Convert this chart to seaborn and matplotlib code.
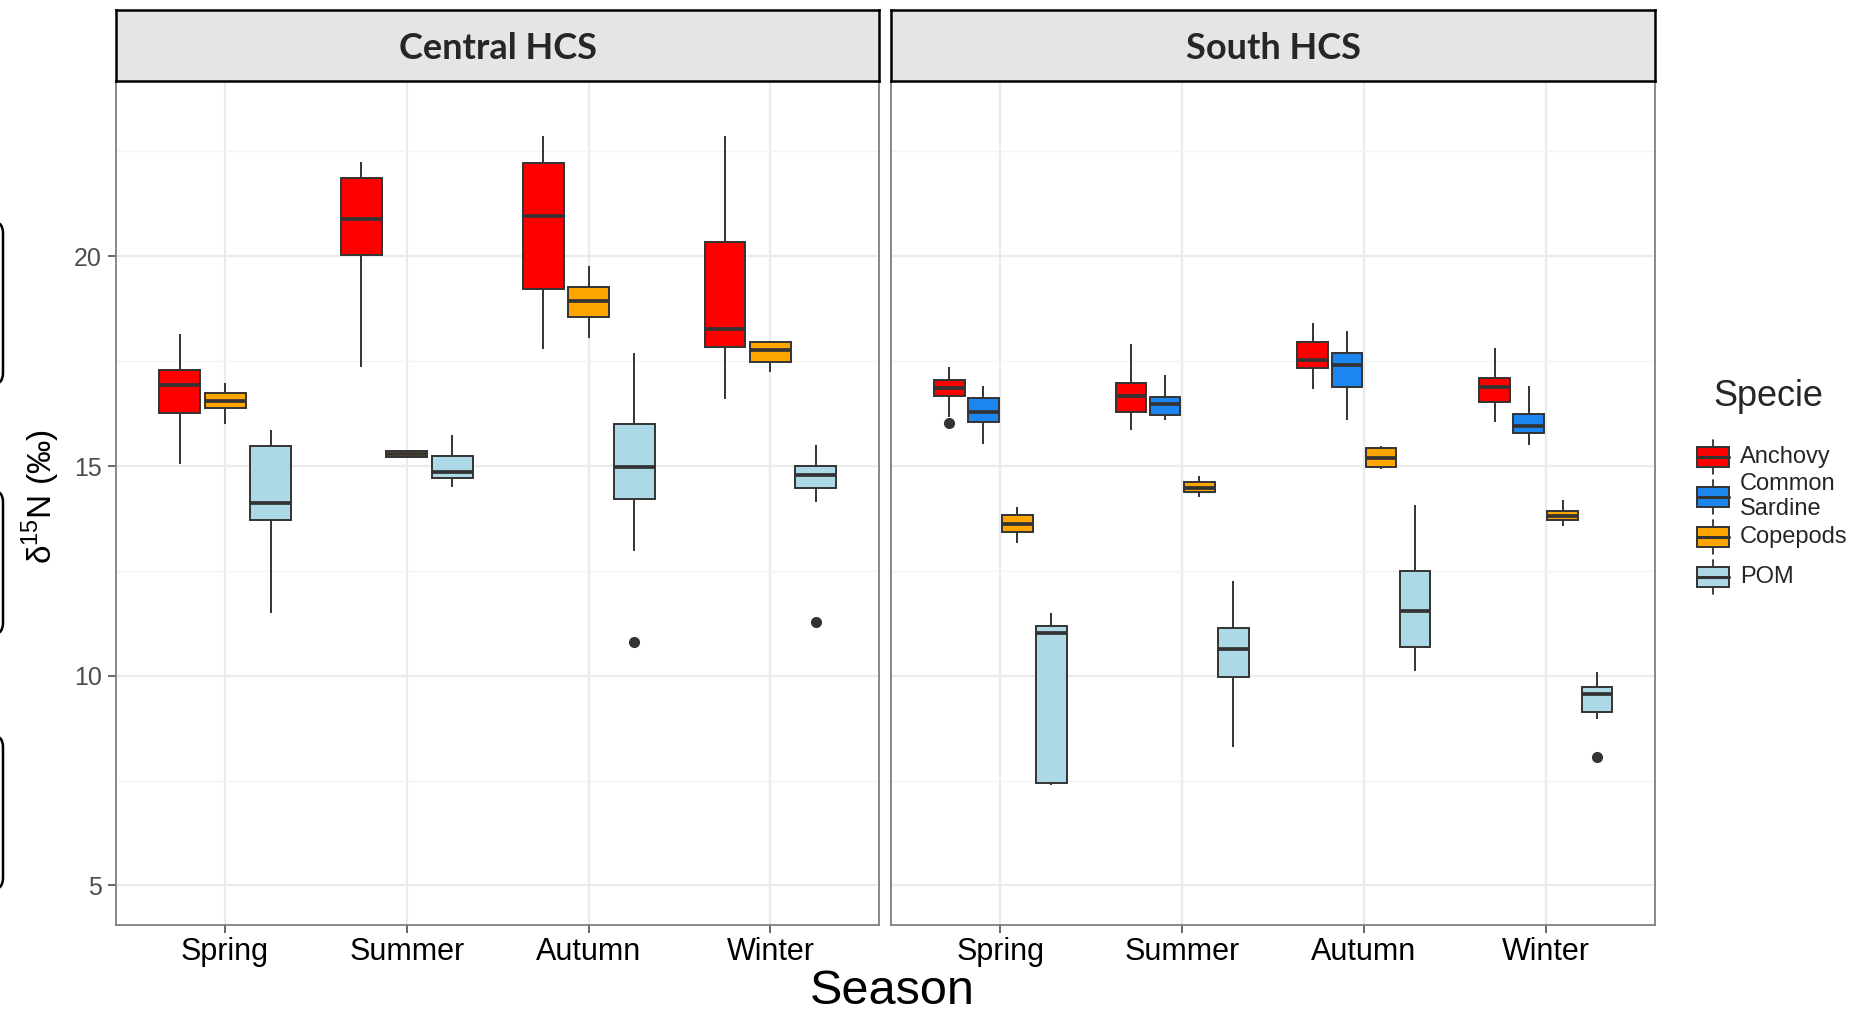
import numpy as np
import pandas as pd
import matplotlib
matplotlib.use("Agg")
import matplotlib.pyplot as plt
from matplotlib.patches import Rectangle, FancyBboxPatch
from matplotlib.lines import Line2D
import seaborn as sns

# ---- categories -----------------------------------------------------------
seasons = ["Spring", "Summer", "Autumn", "Winter"]
regions = ["Central HCS", "South HCS"]
species = ["Anchovy", "Common Sardine", "Copepods", "POM"]
species_labels = ["Anchovy", "Common\nSardine", "Copepods", "POM"]
species_colors = ["#FF0000", "#1C86EE", "#FFA500", "#ADD8E6"]

# ---- box statistics per group (δ15N, ‰) ----------------------------------
group_region = ["Central HCS"] * 12 + ["South HCS"] * 16
group_season = (["Spring"] * 3 + ["Summer"] * 3 + ["Autumn"] * 3 + ["Winter"] * 3
                + ["Spring"] * 4 + ["Summer"] * 4 + ["Autumn"] * 4 + ["Winter"] * 4)
group_species = (["Anchovy", "Copepods", "POM"] * 4
                 + ["Anchovy", "Common Sardine", "Copepods", "POM"] * 4)

whisker_low = [15.04, 16.00, 11.49, 17.35, 15.18, 14.50,
               17.78, 18.05, 12.98, 16.60, 17.24, 14.14,
               16.18, 15.53, 13.17, 7.40, 15.87, 16.10, 14.26, 8.30,
               16.84, 16.09, 14.92, 10.11, 16.05, 15.49, 13.57, 8.97]
quartile_1 = [16.27, 16.39, 13.72, 20.02, 15.22, 14.72,
              19.22, 18.56, 14.22, 17.85, 17.47, 14.48,
              16.66, 16.05, 13.43, 7.44, 16.30, 16.22, 14.38, 9.96,
              17.34, 16.89, 14.98, 10.69, 16.52, 15.79, 13.71, 9.14]
median = [16.93, 16.54, 14.11, 20.89, 15.28, 14.85,
          20.95, 18.93, 14.98, 18.27, 17.76, 14.79,
          16.85, 16.28, 13.62, 11.01, 16.68, 16.48, 14.47, 10.63,
          17.52, 17.40, 15.19, 11.54, 16.88, 15.95, 13.81, 9.56]
quartile_3 = [17.29, 16.73, 15.47, 21.87, 15.35, 15.24,
              22.22, 19.27, 16.01, 20.34, 17.96, 15.01,
              17.05, 16.62, 13.83, 11.19, 16.97, 16.65, 14.63, 11.14,
              17.96, 17.70, 15.44, 12.49, 17.10, 16.25, 13.92, 9.74]
whisker_high = [18.15, 16.97, 15.87, 22.24, 15.37, 15.73,
                22.88, 19.77, 17.69, 22.88, 17.99, 15.50,
                17.36, 16.92, 14.02, 11.50, 17.92, 17.18, 14.77, 12.26,
                18.41, 18.23, 15.48, 14.07, 17.81, 16.90, 14.20, 10.10]
outlier = [np.nan, np.nan, np.nan, np.nan, np.nan, np.nan,
           np.nan, np.nan, 10.80, np.nan, np.nan, 11.28,
           16.03, np.nan, np.nan, np.nan, np.nan, np.nan, np.nan, np.nan,
           np.nan, np.nan, np.nan, np.nan, np.nan, np.nan, np.nan, 8.06]

# Long table: nine observations per group whose quartiles, whisker ends and
# outliers are exactly the statistics above (Tukey 1.5 IQR rule).
rows = []
for i in range(len(group_region)):
    first = outlier[i] if not np.isnan(outlier[i]) else whisker_low[i]
    values = [first, whisker_low[i], quartile_1[i], median[i], median[i],
              median[i], quartile_3[i], whisker_high[i], whisker_high[i]]
    for v in values:
        rows.append((group_region[i], group_season[i], group_species[i], v))
df = pd.DataFrame(rows, columns=["Region", "Season", "Specie", "d15N"])

palette = dict(zip(species, species_colors))

# ---- styling ---------------------------------------------------------------
sns.set_theme(style="white")
plt.rcParams["font.family"] = ["Liberation Sans", "DejaVu Sans"]
plt.rcParams["mathtext.fontset"] = "custom"
plt.rcParams["mathtext.rm"] = "Liberation Sans"

W, H = 1856, 1011
fig = plt.figure(figsize=(W / 100, H / 100), dpi=100)
fig.patch.set_facecolor("white")

panel_bottom = 1 - 924.5 / H
panel_top = 1 - 81.0 / H
panel_h = panel_top - panel_bottom
strip_h = (81.0 - 9.5) / H
lefts = [116 / W, 891.3 / W]
panel_w = (879.5 - 116) / W

edge = "#333333"
for k, region in enumerate(regions):
    ax = fig.add_axes([lefts[k], panel_bottom, panel_w, panel_h])
    sub = df[df["Region"] == region]
    present = [s for s in species if s in set(sub["Specie"])]
    sns.boxplot(
        data=sub, x="Season", y="d15N", hue="Specie",
        order=seasons, hue_order=present, palette=palette, saturation=1,
        width=0.75, gap=0.1, whis=1.5, showcaps=False,
        linecolor=edge, linewidth=1.4,
        medianprops=dict(linewidth=2.7, color=edge),
        flierprops=dict(marker="o", markersize=7, markerfacecolor=edge,
                        markeredgecolor=edge),
        legend=False, ax=ax,
    )
    ax.set_xlim(-0.6, 3.6)
    ax.set_ylim(4.07, 24.18)
    ax.set_yticks([5, 10, 15, 20])
    ax.set_yticks([7.5, 12.5, 17.5, 22.5], minor=True)
    ax.set_axisbelow(True)
    ax.grid(which="major", axis="both", color="#EBEBEB", linewidth=1.6)
    ax.grid(which="minor", axis="y", color="#F3F3F3", linewidth=1.0)
    ax.set_xlabel("")
    ax.set_ylabel("")
    for sp in ax.spines.values():
        sp.set_visible(True)
        sp.set_color("#7F7F7F")
        sp.set_linewidth(1.3)
    ax.tick_params(axis="x", which="major", length=6, width=1.2,
                   color="#4D4D4D", labelsize=22, labelcolor="black", pad=3,
                   bottom=True)
    ax.tick_params(axis="y", which="minor", length=0)
    if k == 0:
        ax.tick_params(axis="y", which="major", length=6, width=1.2,
                       color="#4D4D4D", labelsize=18, labelcolor="#4D4D4D",
                       pad=4, left=True)
    else:
        ax.tick_params(axis="y", which="major", length=0, labelleft=False)

    # facet strip
    sax = fig.add_axes([lefts[k], panel_top, panel_w, strip_h])
    sax.set_facecolor("#E5E5E5")
    sax.set_xticks([])
    sax.set_yticks([])
    for sp in sax.spines.values():
        sp.set_visible(True)
        sp.set_color("black")
        sp.set_linewidth(1.8)
    sax.text(0.5, 0.46, region, ha="center", va="center", fontsize=26,
             fontweight="bold", family=["Lato", "DejaVu Sans"],
             transform=sax.transAxes)

# axis titles
fig.text(41 / W, 1 - 497 / H, "δ$^{15}$N (‰)", rotation=90,
         ha="center", va="center", fontsize=24, color="black")
fig.text(892 / W, 1 - 1004 / H, "Season", ha="center", va="baseline",
         fontsize=35, color="black")

# overlay in pixel coordinates for the legend and the bracket frames
ov = fig.add_axes([0, 0, 1, 1], zorder=5)
ov.set_xlim(0, W)
ov.set_ylim(H, 0)
ov.axis("off")
ov.patch.set_alpha(0)

for y0, y1 in [(221, 385), (490, 635), (735, 890)]:
    ov.add_patch(FancyBboxPatch((-60, y0), 63, y1 - y0,
                                boxstyle="round,pad=0,rounding_size=12",
                                fc="none", ec="black", lw=1.8))

ov.text(1768, 397, "Specie", ha="center", va="center", fontsize=26)
key_y = [456.7, 496.7, 536.7, 577.3]
kx0, kw, kh = 1697, 32, 20
for lab, col, cy in zip(species_labels, species_colors, key_y):
    xm = kx0 + kw / 2
    ov.add_line(Line2D([xm, xm], [cy - 17, cy + 17], color=edge, lw=1.3))
    ov.add_patch(Rectangle((kx0, cy - kh / 2), kw, kh, fc=col, ec=edge,
                           lw=1.4, zorder=3))
    ov.add_line(Line2D([kx0, kx0 + kw], [cy, cy], color=edge, lw=2.2,
                       zorder=4))
    ov.text(1740, cy, lab, ha="left", va="center", fontsize=17,
            linespacing=1.15)

fig.savefig("out.png", dpi=100, facecolor="white")
